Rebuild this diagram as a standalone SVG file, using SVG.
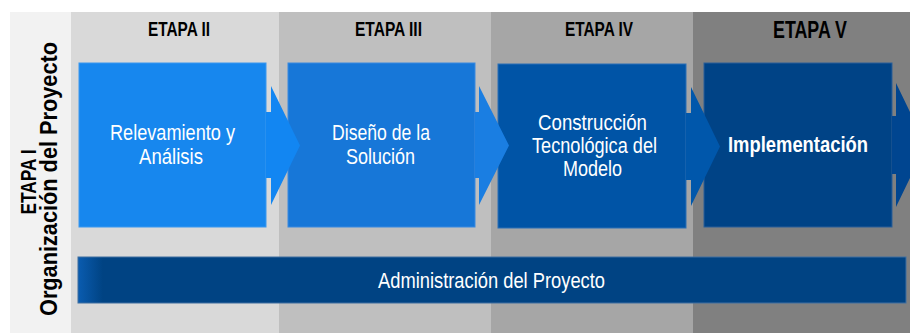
<svg xmlns="http://www.w3.org/2000/svg" width="910" height="333" viewBox="0 0 910 333">
  <defs>
    <style>
      .hdr { font-family: "Liberation Sans", Arial, sans-serif; font-weight: bold; fill: #000000; text-anchor: middle; }
      .vt { font-family: "Liberation Sans", Arial, sans-serif; font-weight: bold; fill: #000000; text-anchor: middle; }
      .bt { font-family: "Liberation Sans", Arial, sans-serif; fill: #ffffff; text-anchor: middle; font-size: 22px; }
      .box { stroke-width: 1; }
    </style>
    <linearGradient id="barGrad" x1="78" y1="0" x2="906" y2="0" gradientUnits="userSpaceOnUse">
      <stop offset="0" stop-color="#0a5cb0"/>
      <stop offset="0.03" stop-color="#004383"/>
      <stop offset="1" stop-color="#004383"/>
    </linearGradient>
  </defs>
  <rect width="910" height="333" fill="#ffffff"/>

  <g id="columns">
    <rect x="10" y="12" width="61" height="321" fill="#f2f2f2"/>
    <rect x="71" y="12" width="208" height="321" fill="#d9d9d9"/>
    <rect x="279" y="12" width="212" height="321" fill="#bfbfbf"/>
    <rect x="491" y="12" width="202" height="321" fill="#a6a6a6"/>
    <rect x="693" y="12" width="217" height="321" fill="#808080"/>
  </g>

  <g id="headers">
    <text class="hdr" x="179" y="36" font-size="20" textLength="62" lengthAdjust="spacingAndGlyphs">ETAPA II</text>
    <text class="hdr" x="388.5" y="36" font-size="20" textLength="67" lengthAdjust="spacingAndGlyphs">ETAPA III</text>
    <text class="hdr" x="599" y="36" font-size="20" textLength="68" lengthAdjust="spacingAndGlyphs">ETAPA IV</text>
    <text class="hdr" x="810" y="38" font-size="23" textLength="74" lengthAdjust="spacingAndGlyphs">ETAPA V</text>
  </g>

  <g id="etapa1">
    <text class="vt" transform="translate(36 182) rotate(-90)" font-size="22" textLength="65" lengthAdjust="spacingAndGlyphs">ETAPA I</text>
    <text class="vt" transform="translate(57 179) rotate(-90)" font-size="23" textLength="274" lengthAdjust="spacingAndGlyphs">Organización del Proyecto</text>
  </g>

  <g id="node1">
    <rect class="box" x="79" y="63" width="187" height="164" fill="#1787ee" stroke="#3a98f0"/>
    <text class="bt" x="172.5" y="140" textLength="125" lengthAdjust="spacingAndGlyphs">Relevamiento y</text>
    <text class="bt" x="171" y="164" textLength="64" lengthAdjust="spacingAndGlyphs">Análisis</text>
  </g>
  <g id="node2">
    <rect class="box" x="288" y="63" width="187" height="164" fill="#1777d8" stroke="#3a8ae0"/>
    <text class="bt" x="381" y="140" textLength="98" lengthAdjust="spacingAndGlyphs">Diseño de la</text>
    <text class="bt" x="380.5" y="164" textLength="69" lengthAdjust="spacingAndGlyphs">Solución</text>
  </g>
  <g id="node3">
    <rect class="box" x="498" y="64" width="188" height="164" fill="#0054a6" stroke="#2a6fb5"/>
    <text class="bt" x="592.5" y="130" textLength="109" lengthAdjust="spacingAndGlyphs">Construcción</text>
    <text class="bt" x="594.5" y="153" textLength="125" lengthAdjust="spacingAndGlyphs">Tecnológica del</text>
    <text class="bt" x="592.5" y="176" textLength="59" lengthAdjust="spacingAndGlyphs">Modelo</text>
  </g>
  <g id="node4">
    <rect class="box" x="704" y="63" width="188" height="164" fill="#004386" stroke="#2a5f98"/>
    <text class="bt" x="798" y="152" font-weight="bold" textLength="140" lengthAdjust="spacingAndGlyphs">Implementación</text>
  </g>

  <g id="connectors">
    <path d="M266 112 H271 V86 L300 145.5 L271 205 V178 H266 Z" fill="#1286f2"/>
    <path d="M475 112 H479 V86 L509 145.5 L479 205 V178 H475 Z" fill="#1a7ee2"/>
    <path d="M686 113 H691 V87 L720 146.5 L691 206 V180 H686 Z" fill="#0057ab"/>
    <path d="M892 116 H896 V83 L926 145 L896 207 V174 H892 Z" fill="#004590"/>
  </g>

  <g id="bar">
    <rect x="78" y="257" width="828" height="46" fill="url(#barGrad)" stroke="#3f6fa0" stroke-width="1"/>
    <text class="bt" x="491.5" y="288" textLength="227" lengthAdjust="spacingAndGlyphs">Administración del Proyecto</text>
  </g>
</svg>
